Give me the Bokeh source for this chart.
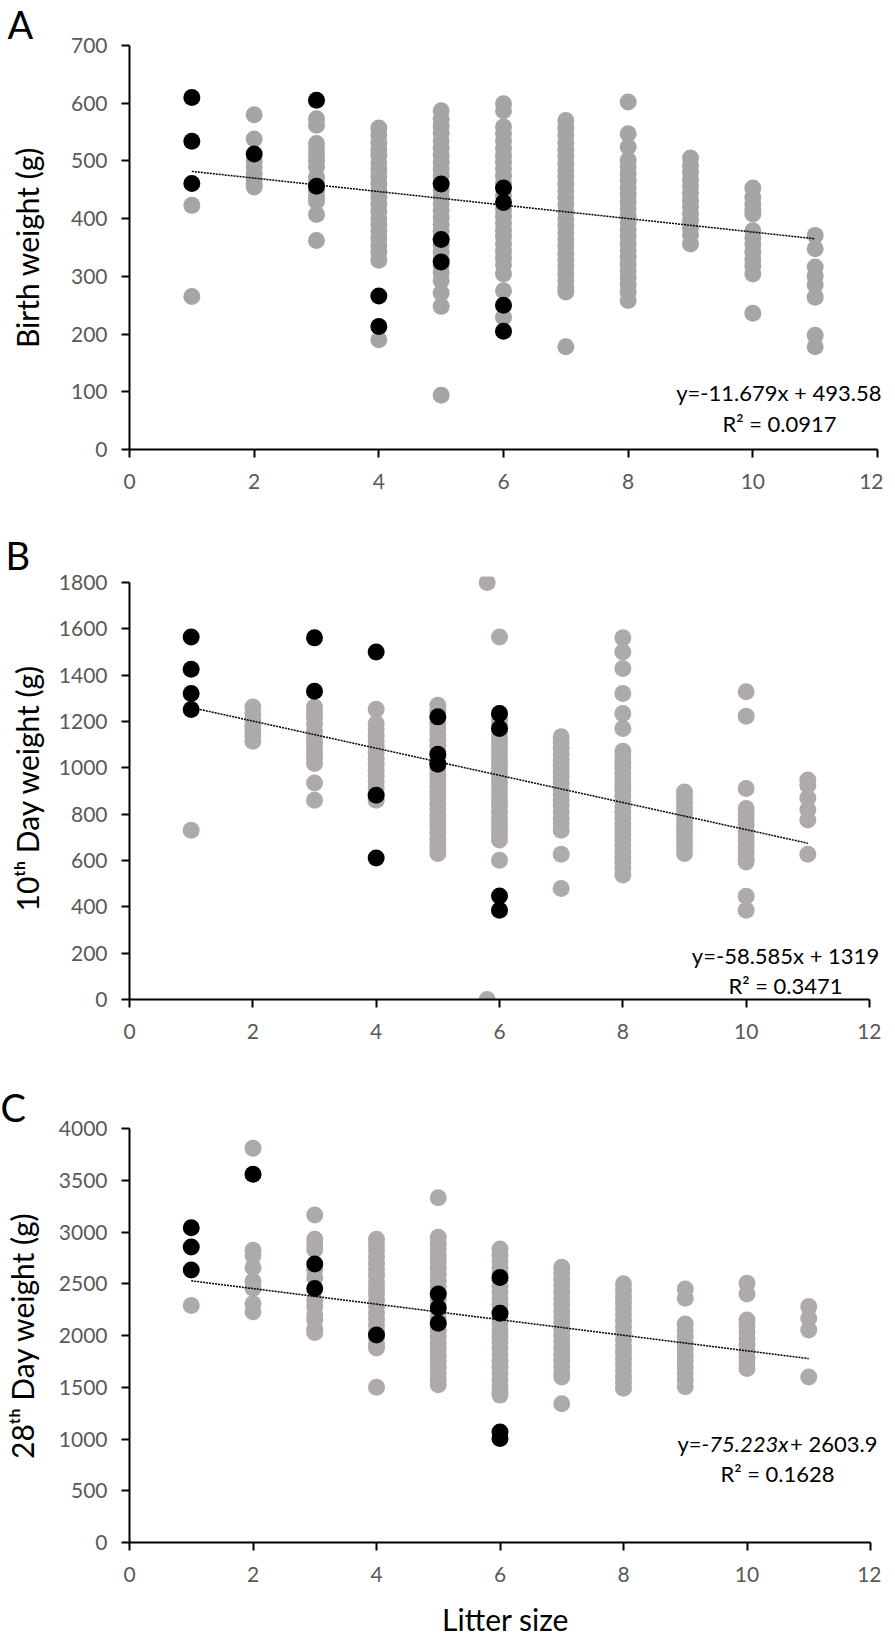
import math
from bokeh.plotting import figure
from bokeh.layouts import column
from bokeh.models import Range1d, Label, FixedTicker
from bokeh.embed import file_html
from bokeh.resources import INLINE

# ---------------- data ----------------
litter_sizes = [1, 2, 3, 4, 5, 6, 7, 8, 9, 10, 11]
x_ticks = [0, 2, 4, 6, 8, 10, 12]

# Panel A: birth weight (g)
birth_ticks = [0, 100, 200, 300, 400, 500, 600, 700]
birth_gray = [
    [423, 265],
    [580, 538, 500, 490, 478, 468, 460, 455],
    [573, 562, 530, 521, 510, 500, 490, 472, 462, 447, 438, 430, 407, 362],
    [557, 545, 532, 520, 510, 497, 485, 472, 460, 448, 437, 425, 413, 400, 390, 378, 366, 354, 342, 328, 190],
    [587, 572, 560, 548, 535, 522, 510, 498, 486, 474, 462, 450, 438, 426, 414, 402, 390, 378, 366, 354, 342, 330, 318, 306, 293, 271, 248, 94],
    [599, 587, 559, 547, 535, 522, 510, 498, 486, 474, 462, 440, 416, 404, 392, 380, 368, 356, 344, 332, 320, 304, 275, 229],
    [570, 557, 545, 532, 520, 508, 496, 484, 472, 460, 448, 436, 424, 412, 400, 388, 376, 364, 352, 340, 328, 316, 304, 292, 280, 273, 178],
    [602, 547, 524, 501, 489, 477, 465, 453, 441, 429, 417, 405, 393, 381, 369, 357, 345, 333, 321, 309, 297, 285, 273, 258],
    [505, 492, 480, 468, 456, 444, 432, 420, 408, 396, 384, 372, 356],
    [453, 437, 425, 415, 408, 379, 367, 355, 343, 330, 318, 304, 236],
    [371, 348, 316, 300, 285, 264, 198, 178],
]
birth_black = [
    [610, 534, 461], [512], [605, 456], [266, 213], [460, 364, 325],
    [453, 428, 250, 205], [], [], [], [], [],
]
birth_slope, birth_intercept = -11.679, 493.58
birth_eq = "y=-11.679x + 493.58"
birth_r2 = "R\u00b2 = 0.0917"
birth_title = "Birth weight (g)"

# Panel B: 10th day weight (g)
day10_ticks = [0, 200, 400, 600, 800, 1000, 1200, 1400, 1600, 1800]
day10_gray = [
    [731],
    [1263, 1235, 1205, 1180, 1160, 1140, 1115],
    [1263, 1240, 1215, 1190, 1160, 1135, 1110, 1085, 1060, 1040, 1019, 935, 860],
    [1253, 1191, 1165, 1140, 1115, 1090, 1065, 1040, 1015, 990, 965, 940, 915, 890, 870, 860],
    [1270, 1245, 1220, 1195, 1170, 1145, 1120, 1095, 1070, 1045, 1020, 995, 970, 945, 920, 895, 870, 845, 820, 795, 770, 745, 720, 695, 670, 650, 630],
    [1565, 1234, 1210, 1185, 1160, 1135, 1110, 1085, 1060, 1035, 1010, 985, 960, 935, 910, 885, 860, 835, 810, 785, 760, 735, 710, 688, 601],
    [1134, 1110, 1085, 1060, 1035, 1010, 985, 960, 935, 910, 885, 860, 835, 810, 785, 760, 731, 627, 479],
    [1561, 1500, 1429, 1321, 1234, 1170, 1072, 1048, 1024, 1000, 976, 952, 928, 904, 880, 856, 832, 808, 784, 760, 736, 712, 688, 664, 640, 616, 592, 568, 537],
    [896, 872, 848, 824, 800, 776, 752, 728, 704, 680, 655, 630],
    [1328, 1223, 911, 824, 800, 776, 752, 728, 704, 680, 656, 632, 608, 594, 446, 385],
    [947, 925, 870, 820, 775, 627],
]
day10_gray_extra_x = [5.8, 5.8]
day10_gray_extra_y = [1800, 0]
day10_black = [
    [1565, 1426, 1321, 1252], [], [1561, 1331], [1500, 882, 611], [1220, 1059, 1016],
    [1234, 1170, 447, 385], [], [], [], [], [],
]
day10_slope, day10_intercept = -58.585, 1319
day10_eq = "y=-58.585x + 1319"
day10_r2 = "R\u00b2 = 0.3471"
day10_title = "10\u1d57\u02b0 Day weight (g)"

# Panel C: 28th day weight (g)
day28_ticks = [0, 500, 1000, 1500, 2000, 2500, 3000, 3500, 4000]
day28_gray = [
    [2289],
    [3810, 2824, 2774, 2657, 2523, 2456, 2306, 2229],
    [3165, 2930, 2880, 2830, 2640, 2560, 2340, 2280, 2200, 2150, 2060, 2030],
    [2930, 2880, 2820, 2760, 2700, 2640, 2580, 2520, 2460, 2400, 2340, 2280, 2220, 2160, 2100, 2040, 1980, 1920, 1880, 1500],
    [3330, 2950, 2890, 2830, 2770, 2710, 2650, 2590, 2530, 2470, 2410, 2350, 2290, 2230, 2170, 2110, 2050, 1990, 1930, 1870, 1810, 1750, 1690, 1630, 1570, 1525],
    [2835, 2775, 2715, 2655, 2595, 2535, 2475, 2415, 2355, 2295, 2235, 2175, 2115, 2055, 1995, 1935, 1875, 1815, 1755, 1695, 1635, 1575, 1515, 1460, 1424],
    [2660, 2600, 2540, 2480, 2420, 2360, 2300, 2240, 2180, 2120, 2060, 2000, 1940, 1880, 1820, 1760, 1700, 1640, 1600, 1340],
    [2500, 2440, 2380, 2320, 2260, 2200, 2140, 2080, 2020, 1960, 1900, 1840, 1780, 1720, 1660, 1600, 1540, 1490],
    [2450, 2360, 2110, 2050, 1990, 1930, 1870, 1810, 1750, 1690, 1630, 1570, 1505],
    [2505, 2400, 2150, 2090, 2030, 1970, 1910, 1850, 1790, 1730, 1682],
    [2279, 2166, 2053, 1600],
]
day28_black = [
    [3041, 2854, 2633], [3559], [2690, 2455], [2005], [2402, 2269, 2118],
    [2560, 2215, 1068, 1004], [], [], [], [], [],
]
day28_slope, day28_intercept = -75.223, 2603.9
day28_eq_parts = ["y=", "-75.223x", "+ 2603.9"]
day28_r2 = "R\u00b2 = 0.1628"
day28_title = "28\u1d57\u02b0 Day weight (g)"

x_title = "Litter size"

# ---------------- styling ----------------
FONT = "Lato"
RIGHT_EDGE = 887     # page x of the canvas right edge
X_OFF = 8            # page x of the canvas left edge
LETTER_BOX_H = 48.6  # height Bokeh reserves for a 38px title (+2px, +1px safety)


def flatten(cols):
    xs, ys = [], []
    for ls, col in zip(litter_sizes, cols):
        for v in col:
            xs.append(ls)
            ys.append(v)
    return xs, ys


def make_panel(ymax, yticks, gray_cols, black_cols, gray_color, slope, intercept,
               geom, pad, ytitle, ytitle_standoff, letter, xlabel_standoff,
               extra_x=None, extra_y=None):
    fl, fr, ytop, y0, ptop, pbot = geom
    ppu_y = (y0 - ytop) / ymax
    ppu_x = (fr - fl) / 12.0
    frame_w = RIGHT_EDGE - fl
    frame_h = (y0 - ytop) + pad
    mbt = (ytop - pad) - ptop
    mbb = pbot - y0
    mbl = fl - X_OFF
    p = figure(frame_width=frame_w, frame_height=frame_h,
               min_border_left=mbl, min_border_right=0,
               min_border_top=mbt, min_border_bottom=mbb,
               x_range=Range1d(0, 12 + (RIGHT_EDGE - fr) / ppu_x),
               y_range=Range1d(0, ymax + pad / ppu_y),
               output_backend="svg", toolbar_location=None,
               background_fill_color="white", border_fill_color="white")
    p.outline_line_color = None
    p.grid.visible = False

    p.xaxis.ticker = FixedTicker(ticks=x_ticks)
    p.yaxis.ticker = FixedTicker(ticks=yticks)
    p.xaxis.bounds = (0, 12)
    p.yaxis.bounds = (0, ymax)
    for ax in (p.xaxis[0], p.yaxis[0]):
        ax.axis_line_color = "black"
        ax.axis_line_width = 2
        ax.major_tick_line_color = "black"
        ax.major_tick_line_width = 2
        ax.major_tick_in = 0
        ax.major_tick_out = 8
        ax.minor_tick_line_color = None
        ax.major_label_text_font = FONT
        ax.major_label_text_font_size = "21px"
        ax.major_label_text_color = "#595959"
        ax.axis_label_text_font = FONT
        ax.axis_label_text_font_size = "30px"
        ax.axis_label_text_font_style = "normal"
        ax.axis_label_text_color = "black"
    p.yaxis.major_label_standoff = 14
    p.xaxis.major_label_standoff = xlabel_standoff
    p.yaxis.axis_label = ytitle
    p.yaxis.axis_label_standoff = ytitle_standoff

    # panel letter as the plot title, pushed to the far left and down to the frame
    p.title.text = letter
    p.title.text_font = FONT
    p.title.text_font_size = "38px"
    p.title.text_font_style = "normal"
    p.title.text_color = "black"
    p.title.align = "left"
    p.title.vertical_align = "bottom"
    p.title.offset = 6 - fl
    p.title.standoff = mbt - LETTER_BOX_H

    gx, gy = flatten(gray_cols)
    if extra_x:
        gx = gx + list(extra_x)
        gy = gy + list(extra_y)
    p.scatter(gx, gy, size=17, marker="circle", fill_color=gray_color, line_color=None)
    bx, by = flatten(black_cols)
    p.scatter(bx, by, size=17, marker="circle", fill_color="black", line_color=None)

    x0, x1 = min(litter_sizes), max(litter_sizes)
    p.line([x0, x1], [slope * x0 + intercept, slope * x1 + intercept],
           line_color="black", line_width=1.5, line_dash="2 1")

    def dx(px):
        return (px - fl) / ppu_x

    def dy(py):
        return (y0 - py) / ppu_y

    return p, dx, dy


def add_text(p, x, y, text, size, align="left", style="normal"):
    p.add_layout(Label(x=x, y=y, text=text, text_font=FONT, text_font_size=size,
                       text_align=align, text_baseline="alphabetic",
                       text_font_style=style, text_color="black"))


# Panel A   (geometry: frame left/right x, y of top tick, y of zero, canvas top/bottom)
geomA = (128, 876, 45, 449, 0, 531)
pA, dxA, dyA = make_panel(700, birth_ticks, birth_gray, birth_black, "#A5A5A5",
                          birth_slope, birth_intercept, geomA, 0, birth_title, 23, "A", 16)
add_text(pA, dxA(880), dyA(392), birth_eq, "22px", align="right")
add_text(pA, dxA(778), dyA(423), birth_r2, "22px", align="center")

# Panel B
geomB = (130, 870, 582, 999, 531, 1083)
pB, dxB, dyB = make_panel(1800, day10_ticks, day10_gray, day10_black, "#AEAAAA",
                          day10_slope, day10_intercept, geomB, 6, day10_title, 11, "B", 16,
                          day10_gray_extra_x, day10_gray_extra_y)
add_text(pB, dxB(786), dyB(955), day10_eq, "22px", align="center")
add_text(pB, dxB(786), dyB(985), day10_r2, "22px", align="center")

# Panel C
geomC = (135, 876, 1128, 1542, 1083, 1644)
pC, dxC, dyC = make_panel(4000, day28_ticks, day28_gray, day28_black, "#AEAAAA",
                          day28_slope, day28_intercept, geomC, 0, day28_title, 16, "C", 16)
pC.xaxis.axis_label = x_title
pC.xaxis.axis_label_standoff = 16
add_text(pC, dxC(707), dyC(1443), day28_eq_parts[0], "22px", align="right")
add_text(pC, dxC(707), dyC(1443), day28_eq_parts[1], "22px", align="left", style="italic")
add_text(pC, dxC(883), dyC(1443), day28_eq_parts[2], "22px", align="right")
add_text(pC, dxC(783), dyC(1473), day28_r2, "22px", align="center")

layout = column(pA, pB, pC, spacing=0)
open("out.html", "w").write(file_html(layout, INLINE))
